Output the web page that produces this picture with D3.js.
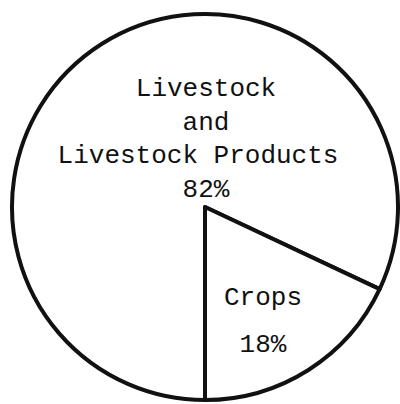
<!DOCTYPE html>
<html>
<head>
<meta charset="utf-8">
<script src="https://cdn.jsdelivr.net/npm/d3@7"></script>
<style>
  body { margin: 0; background: #fff; }
  svg { display: block; }
  text { font-family: "Liberation Mono", "DejaVu Sans Mono", monospace; fill: #111; }
</style>
</head>
<body>
<div id="chart"></div>
<script>
// shares of farm income
var categories = ['Livestock and Livestock Products', 'Crops'];
var shares = [82, 18];
var labelLines = [
  ['Livestock', 'and', 'Livestock Products', '82%'],
  ['Crops', '18%']
];

var width = 400, height = 404;
var cx = 205, cy = 207, radius = 193;

var svg = d3.select('#chart')
  .append('svg')
  .attr('width', width)
  .attr('height', height);

var g = svg.append('g')
  .attr('transform', 'translate(' + cx + ',' + cy + ')');

var dataset = categories.map(function(c, i) {
  return { label: c, count: shares[i], lines: labelLines[i] };
});

// start at six o'clock, go clockwise
var pie = d3.pie()
  .value(function(d) { return d.count; })
  .sort(null)
  .startAngle(Math.PI)
  .endAngle(3 * Math.PI);

var arc = d3.arc()
  .innerRadius(0)
  .outerRadius(radius);

g.selectAll('path')
  .data(pie(dataset))
  .enter()
  .append('path')
  .attr('d', arc)
  .attr('fill', '#fff')
  .attr('stroke', '#111')
  .attr('stroke-width', 4)
  .attr('stroke-linejoin', 'round');

// label blocks (offsets from centre)
var labelPos = [
  { x: 1, y: -111, step: 33.5, dx: [0, 0, -8, 0] },
  { x: 58, y: 98, step: 47, dx: [0, 0] }
];

dataset.forEach(function(d, i) {
  var p = labelPos[i];
  var t = g.append('text')
    .attr('text-anchor', 'middle')
    .style('font-size', '26px');
  d.lines.forEach(function(line, j) {
    t.append('tspan')
      .attr('x', p.x + p.dx[j])
      .attr('y', p.y + j * p.step)
      .text(line);
  });
});
</script>
</body>
</html>
